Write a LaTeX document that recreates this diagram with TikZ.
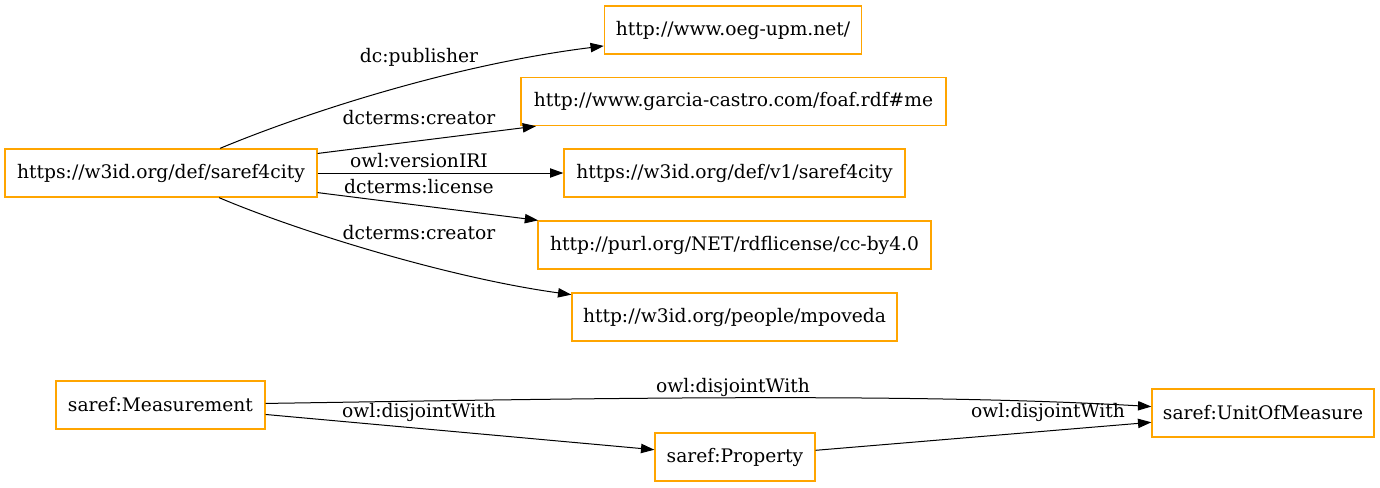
\documentclass[tikz,border=0pt]{standalone}
\usepackage{fontspec}
\setmainfont{DejaVu Serif}
\usetikzlibrary{arrows.meta}
\definecolor{boxorange}{HTML}{FFA500}
\begin{document}
\begin{tikzpicture}[x=0.75pt,y=-0.75pt,
  box/.style={draw=boxorange,line width=1pt,minimum height=36pt,inner sep=0pt,font=\fontsize{14pt}{16pt}\selectfont},
  lbl/.style={inner sep=0pt,font=\fontsize{14pt}{16pt}\selectfont},
  edge/.style={draw=black,line width=0.75pt,-{Triangle[length=10pt,width=7pt]}}]
\useasboundingbox (0,0) rectangle (1380,487);
\node[box,minimum width=234pt] (s4c) at (161,173) {https://w3id.org/def/saref4city};
\node[box,minimum width=192.75pt] (oeg) at (733,30) {http://www.oeg-upm.net/};
\node[box,minimum width=318.75pt] (garcia) at (733.5,101.5) {http://www.garcia-castro.com/foaf.rdf\#me};
\node[box,minimum width=255.75pt] (v1) at (734.5,173) {https://w3id.org/def/v1/saref4city};
\node[box,minimum width=294.75pt] (lic) at (734.5,245) {http://purl.org/NET/rdflicense/cc-by4.0};
\node[box,minimum width=243.75pt] (mpo) at (734.5,317) {http://w3id.org/people/mpoveda};
\node[box,minimum width=156.75pt] (meas) at (160.5,405) {saref:Measurement};
\node[box,minimum width=166.5pt] (unit) at (1263,413) {saref:UnitOfMeasure};
\node[box,minimum width=120pt] (prop) at (735,457) {saref:Property};
\draw[edge] (s4c) .. controls (300,115) and (450,65) .. (oeg);
\draw[edge] (s4c) -- (garcia);
\draw[edge] (s4c) -- (v1);
\draw[edge] (s4c) -- (lic);
\draw[edge] (s4c) .. controls (300,232) and (450,278) .. (mpo);
\draw[edge] (meas) .. controls (560,399) and (900,392) .. (unit);
\draw[edge] (meas) -- (prop);
\draw[edge] (prop) -- (unit);
\node[lbl] (l1) at (419,57) {dc:publisher};
\node[lbl] (l2) at (419,118) {dcterms:creator};
\node[lbl] (l3) at (419,161) {owl:versionIRI};
\node[lbl] (l4) at (419,187) {dcterms:license};
\node[lbl] (l5) at (419,233) {dcterms:creator};
\node[lbl] (l6) at (733,387) {owl:disjointWith};
\node[lbl] (l7) at (419,412) {owl:disjointWith};
\node[lbl] (l8) at (1048,412) {owl:disjointWith};
\end{tikzpicture}
\end{document}
